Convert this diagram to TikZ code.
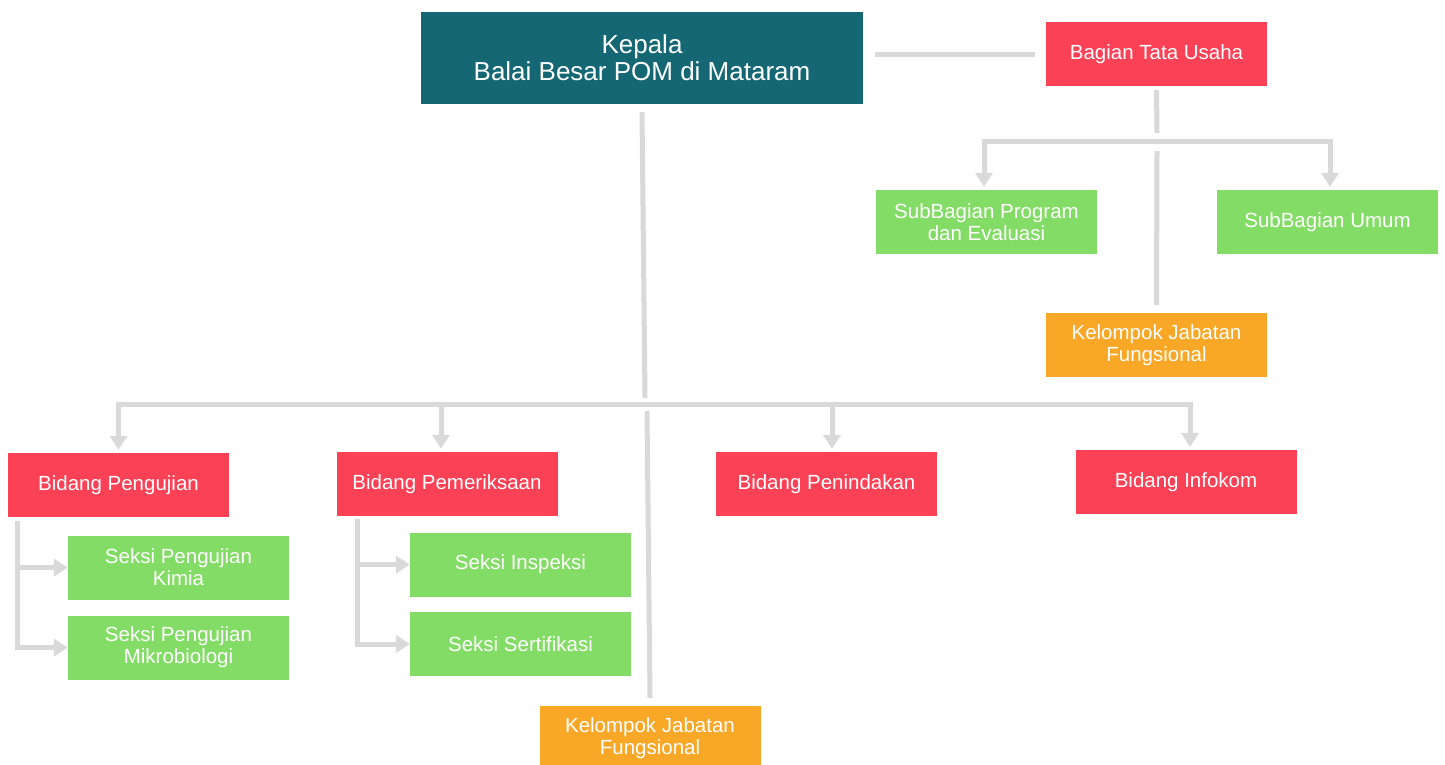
\documentclass[tikz,border=0pt]{standalone}
\usepackage{fontspec}
\setmainfont{Liberation Sans}
\usetikzlibrary{arrows.meta}

\definecolor{headteal}{HTML}{156873}
\definecolor{unitred}{HTML}{FB4155}
\definecolor{subgreen}{HTML}{83DC65}
\definecolor{groupamber}{HTML}{F9A727}
\definecolor{linkgray}{HTML}{D9D9D9}

\begin{document}
\begin{tikzpicture}[x=1pt,y=-1pt]
\tikzstyle{unit} = [draw=none,minimum width=221pt,minimum height=64pt,inner sep=0pt,text=white,align=center,font=\fontsize{20.5}{22}\selectfont]
\tikzstyle{head} = [unit,fill=headteal,minimum width=442pt,minimum height=92pt,font=\fontsize{26}{27}\selectfont]
\tikzstyle{bidang} = [unit,fill=unitred]
\tikzstyle{seksi} = [unit,fill=subgreen]
\tikzstyle{jabatan} = [unit,fill=groupamber]
\tikzstyle{link} = [draw=linkgray,line width=5pt]
\tikzstyle{arrow} = [link,-{Triangle[width=17pt,length=14pt]}]

\useasboundingbox[fill=white] (0,0) rectangle (1445,764);

\node[head] (kepala) at (642,58) {Kepala\\Balai Besar POM di Mataram};
\node[bidang] (tatausaha) at (1156.5,54) {Bagian Tata Usaha};
\node[seksi] (program) at (986.5,222) {SubBagian Program\\dan Evaluasi};
\node[seksi] (umum) at (1327.5,222) {SubBagian Umum};
\node[jabatan] (jfatas) at (1156.5,345) {Kelompok Jabatan\\Fungsional};

\node[bidang] (pengujian) at (118.5,485) {Bidang Pengujian};
\node[bidang] (pemeriksaan) at (447,484) {Bidang Pemeriksaan};
\node[bidang] (penindakan) at (826.5,484) {Bidang Penindakan};
\node[bidang] (infokom) at (1186,482) {Bidang Infokom};

\node[seksi] (kimia) at (178.5,567.5) {Seksi Pengujian\\Kimia};
\node[seksi] (mikro) at (178.5,647.5) {Seksi Pengujian\\Mikrobiologi};
\node[seksi] (inspeksi) at (520.5,564.5) {Seksi Inspeksi};
\node[seksi] (sertifikasi) at (520.5,644) {Seksi Sertifikasi};
\node[jabatan] (jfbawah) at (650,738) {Kelompok Jabatan\\Fungsional};

\coordinate (hub) at (645,404);
\coordinate (tu) at (1157,141);

% kepala ke tata usaha
\draw[link] ([xshift=12pt]kepala.east |- tatausaha.west) -- ([xshift=-11pt]tatausaha.west);

% cabang tata usaha
\draw[link] ([yshift=-4pt]tatausaha.south) -- ([yshift=8pt]tu);
\draw[arrow] (tu) -| ([xshift=-2.5pt,yshift=3pt]program.north);
\draw[arrow] (tu) -| ([xshift=2.5pt,yshift=3pt]umum.north);
\draw[link] ([yshift=-10pt]tu) -- ([yshift=8pt]jfatas.north);

% cabang bidang
\draw[link] ([yshift=-8pt]kepala.south) -- ([yshift=6pt]hub);
\draw[arrow] (hub) -| ([yshift=3pt]pengujian.north);
\draw[arrow] (hub) -| ([xshift=-6pt,yshift=3pt]pemeriksaan.north);
\draw[arrow] (hub) -| ([xshift=5.5pt,yshift=3pt]penindakan.north);
\draw[arrow] (hub) -| ([xshift=4pt,yshift=3pt]infokom.north);
\draw[link] ([xshift=2pt,yshift=-7pt]hub) -- ([yshift=8pt]jfbawah.north);

% seksi
\draw[arrow] ([xshift=10pt,yshift=-4pt]pengujian.south west) |- (kimia.west);
\draw[arrow] ([xshift=10pt,yshift=-4pt]pengujian.south west) |- (mikro.west);
\draw[arrow] ([xshift=21pt,yshift=-3pt]pemeriksaan.south west) |- (inspeksi.west);
\draw[arrow] ([xshift=21pt,yshift=-3pt]pemeriksaan.south west) |- (sertifikasi.west);
\end{tikzpicture}
\end{document}
